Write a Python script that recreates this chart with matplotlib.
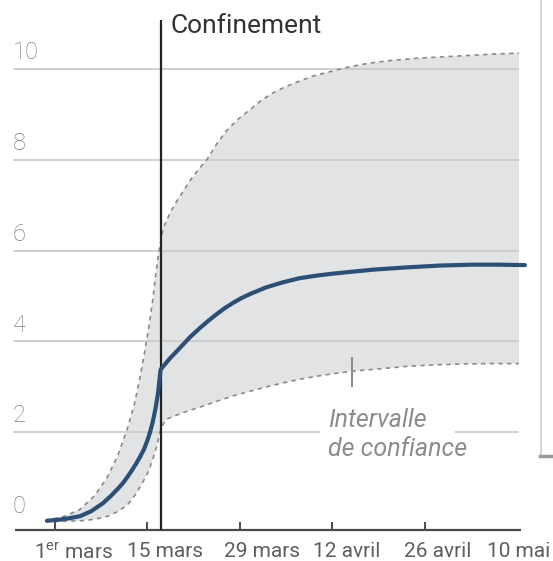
import matplotlib
matplotlib.use("Agg")
import matplotlib.pyplot as plt
from matplotlib.lines import Line2D

plt.rcParams["font.family"] = ["Roboto", "DejaVu Sans"]
plt.rcParams["mathtext.fontset"] = "custom"
plt.rcParams["mathtext.rm"] = "Roboto"

# days counted from 1 March 2020
central_days = [-1.2, 0.5, 2.0, 3.8, 5.5, 7.3, 8.5, 9.5, 10.3, 11.0, 11.7, 12.3, 12.9,
                13.5, 14.0, 14.4, 14.8, 15.2, 15.6, 16.0, 16.8, 17.5, 18.5, 19.4,
                20.5, 22.0, 23.2, 24.5, 25.7, 27.0, 28.2, 29.5, 32.0, 34.5, 37.0,
                39.7, 42.0, 44.7, 48.2, 53.3, 58.3, 63.3, 67.0, 71.2]
central_vals = [0.05, 0.07, 0.1, 0.15, 0.26, 0.44, 0.6, 0.75, 0.88, 1.02, 1.17, 1.31, 1.46,
                1.63, 1.82, 2.0, 2.22, 2.5, 2.85, 3.38, 3.52, 3.64, 3.79, 3.93,
                4.1, 4.3, 4.45, 4.6, 4.73, 4.85, 4.95, 5.04, 5.19, 5.3, 5.39,
                5.45, 5.49, 5.53, 5.58, 5.63, 5.67, 5.69, 5.69, 5.68]

upper_days = [-1.5, 1.5, 3.8, 6.0, 7.9, 9.5, 10.9, 12.0, 12.8, 13.5, 14.2, 14.8, 15.2,
              15.7, 16.4, 17.5, 18.5, 19.4, 20.5, 21.7, 23.0, 24.5, 26.1, 27.8, 29.5,
              31.2, 33.0, 34.5, 36.1, 39.0, 42.7, 45.0, 47.7, 51.0, 55.3, 59.0, 62.9,
              66.5, 70.3]
upper_vals = [0.05, 0.15, 0.3, 0.6, 1.0, 1.48, 2.05, 2.6, 3.15, 3.7, 4.3, 4.9, 5.4,
              5.95, 6.5, 6.85, 7.1, 7.3, 7.55, 7.78, 8.0, 8.35, 8.66, 8.9, 9.1,
              9.3, 9.47, 9.58, 9.68, 9.84, 9.98, 10.06, 10.13, 10.19, 10.24, 10.27, 10.3,
              10.33, 10.35]

lower_days = [-1.5, 2.0, 4.0, 6.0, 8.0, 9.5, 11.0, 12.3, 13.5, 14.2, 14.8, 15.4, 15.9,
              16.4, 16.8, 18.5, 20.0, 21.9, 24.5, 27.0, 29.5, 32.1, 35.0, 37.6, 40.0,
              42.7, 45.5, 48.0, 53.3, 57.0, 61.0, 65.5, 70.3]
lower_vals = [0.03, 0.04, 0.05, 0.08, 0.15, 0.25, 0.4, 0.65, 0.95, 1.15, 1.4, 1.68, 2.0,
              2.18, 2.28, 2.38, 2.46, 2.55, 2.68, 2.8, 2.9, 3.0, 3.1, 3.18, 3.24,
              3.3, 3.35, 3.38, 3.45, 3.48, 3.5, 3.51, 3.51]

lockdown_day = 16
tick_days = [0, 14, 28, 42, 56]
label_days = [2.8, 16.7, 31.4, 44.2, 58.0, 70.2]
date_labels = [r"1$^{\rm er}$ mars", "15 mars", "29 mars", "12 avril", "26 avril", "10 mai"]
y_levels = [0, 2, 4, 6, 8, 10]

W, H = 553, 561
fig = plt.figure(figsize=(W / 100, H / 100), dpi=100)
ax = fig.add_axes([8.8 / W, 24.4 / H, 521.4 / W, 522.1 / H])
ax.set_xlim(-7, 72)
ax.set_ylim(-0.3, 11.2)
ax.axis("off")

x_left, x_right = -6.4, 70.3

# confidence band
ax.fill(upper_days + [x_right] + lower_days[::-1],
        upper_vals + [lower_vals[-1]] + lower_vals[::-1],
        color="#e2e3e5", lw=0, zorder=1)
for d, v in ((upper_days, upper_vals), (lower_days, lower_vals)):
    ax.plot(d, v, color="#8a8a8a", lw=1.2, dashes=(2.6, 2.6), zorder=3)

# gridlines, with a gap for the band label
for v in y_levels[1:]:
    if v == 2:
        ax.hlines(v, x_left, 40.2, color="#c9c9c9", lw=1.2, zorder=2)
        ax.hlines(v, 60.6, x_right, color="#c9c9c9", lw=1.2, zorder=2)
    else:
        ax.hlines(v, x_left, x_right, color="#c9c9c9", lw=1.2, zorder=2)

for v in y_levels:
    ax.annotate(str(v), (x_left, v), xytext=(0, 3.5), textcoords="offset points",
                ha="left", va="bottom", fontsize=17, color="#7e7e7e", fontweight="light")

# x axis baseline and ticks
ax.hlines(-0.15, -6.0, 70.6, color="#4a4a4a", lw=1.6, zorder=4)
ax.vlines(tick_days, -0.15, 0.03, color="#4a4a4a", lw=1.4, zorder=4)
for d, lab in zip(label_days, date_labels):
    ax.annotate(lab, (d, -0.15), xytext=(0, -8.5), textcoords="offset points",
                ha="center", va="top", fontsize=15, color="#5e5e5e")

# lockdown marker
ax.vlines(lockdown_day, -0.15, 11.08, color="#222222", lw=1.6, zorder=5)
ax.annotate("Confinement", (lockdown_day, 10.95), xytext=(7, 0), textcoords="offset points",
            ha="left", va="center", fontsize=19, color="#333333")

# central estimate
ax.plot(central_days, central_vals, color="#2c5075", lw=3.0,
        solid_capstyle="round", solid_joinstyle="round", zorder=6)

# band label
ax.vlines(45.0, 3.0, 3.65, color="#8a8a8a", lw=1.4, zorder=4)
ax.text(41.4, 1.95, "Intervalle\nde confiance", ha="left", va="center",
        fontsize=18, style="italic", color="#8c8c8c", linespacing=1.25)

# edge of the neighbouring panel
fig.add_artist(Line2D([540.5 / W] * 2, [1, 1 - 455 / H], transform=fig.transFigure,
                      color="#cdcdcd", lw=1.2))
fig.add_artist(Line2D([540 / W, 1], [1 - 456 / H] * 2, transform=fig.transFigure,
                      color="#9a9a9a", lw=2.5))

fig.savefig("out.png", dpi=100)
